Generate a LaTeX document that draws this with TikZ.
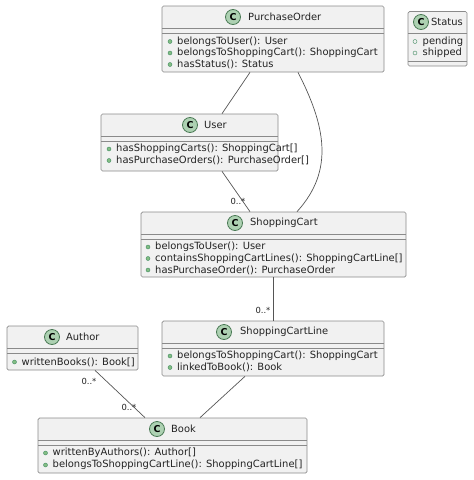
\documentclass[tikz,border=0pt]{standalone}
\usepackage{fontspec}
\setmainfont{DejaVu Sans}
\tikzset{
  box/.style={draw=boxline,fill=boxfill,line width=0.7pt,rounded corners=1.5pt,inner sep=0pt},
  sep/.style={draw=boxline,line width=0.6pt},
  ttl/.style={anchor=west,inner sep=0pt,font=\fontsize{9.9}{11}\selectfont,text=txt},
  mem/.style={anchor=west,inner sep=0pt,font=\fontsize{9.95}{11}\selectfont,text=txt},
  badge/.style={circle,draw=circline,fill=circfill,line width=0.8pt,minimum size=15pt,inner sep=0pt,font=\bfseries\fontsize{9.5}{10}\selectfont,text=black},
  pub/.style={circle,draw=dotline,fill=dotfill,line width=0.4pt,minimum size=4pt,inner sep=0pt},
  fieldpub/.style={circle,draw=dotline,fill=boxfill,line width=0.4pt,minimum size=4pt,inner sep=0pt},
  conn/.style={draw=connline,line width=0.7pt},
  mult/.style={inner sep=0pt,font=\fontsize{8.4}{9}\selectfont,text=txt}
}
\definecolor{boxfill}{HTML}{F1F1F1}
\definecolor{boxline}{HTML}{8A8A8A}
\definecolor{connline}{HTML}{555555}
\definecolor{txt}{HTML}{222222}
\definecolor{circfill}{HTML}{ADD1B2}
\definecolor{circline}{HTML}{4A7A55}
\definecolor{dotfill}{HTML}{84BE84}
\definecolor{dotline}{HTML}{3F8A60}
% name, x1, y1, x2, y2, div1, div2
\newcommand{\umlbox}[7]{%
  \node[box,minimum width=#4pt-#2pt,minimum height=#5pt-#3pt] (#1) at ({(#2+#4)/2},{(#3+#5)/2}) {};
  \draw[sep] (#2,#6) -- (#4,#6);
  \draw[sep] (#2,#7) -- (#4,#7);
}
% name, circle x, y, text x, title
\newcommand{\umltitle}[5]{%
  \node[badge] (#1c) at (#2,#3) {C};
  \node[ttl] (#1t) at (#4,#3) {#5};
}
% name, dot x, y, text
\newcommand{\umlmem}[4]{%
  \node[pub] (#1d) at (#2,#3) {};
  \node[mem] (#1m) at (#2+7,#3) {#4};
}
\newcommand{\umlfield}[4]{%
  \node[fieldpub] (#1d) at (#2,#3) {};
  \node[mem] (#1m) at (#2+7.5,#3) {#4};
}
\begin{document}
\begin{tikzpicture}[x=1pt,y=-1pt]
\useasboundingbox (0,0) rectangle (474,480);
\umlbox{po}{162}{6}{384}{72}{28}{33}
\umltitle{po}{233}{17}{248}{PurchaseOrder}
\umlmem{poa}{170}{41.5}{belongsToUser(): User}
\umlmem{pob}{170}{53}{belongsToShoppingCart(): ShoppingCart}
\umlmem{poc}{170}{64.5}{hasStatus(): Status}

\umlbox{st}{408}{11.5}{467}{66}{33}{61}
\umltitle{st}{421}{22}{431}{Status}
\umlfield{sta}{415}{41.5}{pending}
\umlfield{stb}{415}{53}{shipped}

\umlbox{us}{101}{114}{278}{171}{136}{141}
\umltitle{us}{190}{125}{204}{User}
\umlmem{usa}{109}{149}{hasShoppingCarts(): ShoppingCart[]}
\umlmem{usb}{109}{160.5}{hasPurchaseOrders(): PurchaseOrder[]}

\umlbox{ca}{141}{212}{406}{277}{234}{239}
\umltitle{ca}{235}{223}{250}{ShoppingCart}
\umlmem{caa}{148}{247}{belongsToUser(): User}
\umlmem{cab}{148}{258.5}{containsShoppingCartLines(): ShoppingCartLine[]}
\umlmem{cac}{148}{270}{hasPurchaseOrder(): PurchaseOrder}

\umlbox{li}{162}{321}{384}{376}{343}{348}
\umltitle{li}{224}{332}{240}{ShoppingCartLine}
\umlmem{lia}{170}{356}{belongsToShoppingCart(): ShoppingCart}
\umlmem{lib}{170}{367.5}{linkedToBook(): Book}

\umlbox{au}{7}{326}{138}{370}{348}{353}
\umltitle{au}{52}{337}{66}{Author}
\umlmem{aua}{14.5}{362}{writtenBooks(): Book[]}

\umlbox{bo}{38}{418}{307}{473}{440}{445}
\umltitle{bo}{157}{429}{171}{Book}
\umlmem{boa}{45.5}{453}{writtenByAuthors(): Author[]}
\umlmem{bob}{45.5}{465}{belongsToShoppingCartLine(): ShoppingCartLine[]}

\draw[conn] ([xshift=-23pt]po.south) -- ([xshift=32.5pt]us.north);
\draw[conn] ([xshift=32.5pt]us.south) -- ([xshift=-23.5pt]ca.north);
\draw[conn] ([xshift=25pt]po.south) .. controls (325,125) and (335,170) .. ([xshift=23.5pt]ca.north);
\draw[conn] ([xshift=-0.5pt]ca.south) -- ([xshift=0pt]li.north);
\draw[conn] ([xshift=-28pt]li.south) -- ([xshift=27.5pt]bo.north);
\draw[conn] ([xshift=22.5pt]au.south) -- ([xshift=-27.5pt]bo.north);

\node[mult] (m1) at (238,201) {0..*};
\node[mult] (m2) at (263,310) {0..*};
\node[mult] (m3) at (89,381) {0..*};
\node[mult] (m4) at (129,407) {0..*};
\end{tikzpicture}
\end{document}
